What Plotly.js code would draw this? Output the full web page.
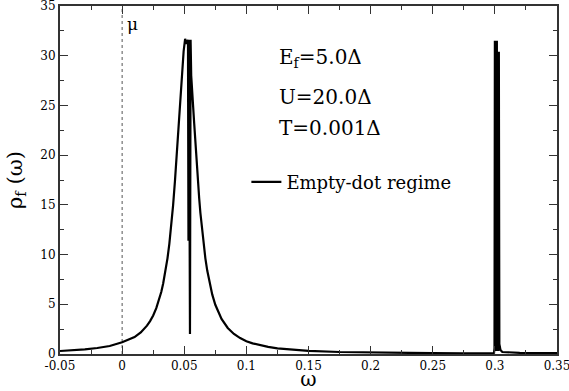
<!DOCTYPE html>
<html>
<head>
<meta charset="utf-8">
<script src="https://cdn.plot.ly/plotly-3.0.1.min.js"></script>
<style>html,body{margin:0;padding:0;background:#fff;}#chart{width:569px;height:391px;}</style>
</head>
<body>
<div id="chart"></div>
<script>
// Spectral function values
const omega = [
  -0.05, -0.04, -0.03, -0.02, -0.01, 0.0, 0.005, 0.01, 0.015, 0.02, 0.0225, 0.025, 0.0275, 0.03, 0.0315,
  0.033, 0.035, 0.0365, 0.038, 0.0395, 0.041, 0.0425, 0.044, 0.045, 0.046, 0.047, 0.048, 0.0495, 0.0507,
  0.0518, 0.0530, 0.0534, 0.0538, 0.0546, 0.0551, 0.0556,
  0.058, 0.059, 0.060, 0.061, 0.062, 0.063, 0.064, 0.0655, 0.067, 0.0685, 0.070, 0.0725, 0.075, 0.0775,
  0.080, 0.085, 0.090, 0.095, 0.100, 0.105, 0.110, 0.1175, 0.125, 0.1375,
  0.15, 0.175, 0.2, 0.225, 0.25, 0.275, 0.295, 0.2993, 0.2997,
  0.3000, 0.3004, 0.3008, 0.3012, 0.3016, 0.3020, 0.3024, 0.3028, 0.3032, 0.3036, 0.3045, 0.306, 0.32, 0.35
];
const rho = [
  0.30, 0.37, 0.46, 0.60, 0.80, 1.18, 1.40, 1.70, 2.17, 2.85, 3.31, 3.88, 4.61, 5.54, 6.24,
  7.06, 8.39, 9.62, 11.08, 12.84, 14.92, 17.36, 20.14, 22.15, 24.22, 26.27, 28.18, 30.45, 31.7,
  31.2, 31.6, 11.4, 31.6, 2.0, 31.6, 28.0,
  23.19, 21.13, 19.18, 17.36, 15.69, 14.18, 12.84, 11.08, 9.62, 8.39, 7.36, 5.99, 4.95, 4.15,
  3.52, 2.62, 2.02, 1.60, 1.29, 1.07, 0.90, 0.71, 0.57, 0.42,
  0.32, 0.20, 0.14, 0.10, 0.08, 0.06, 0.05, 0.10, 0.6,
  31.5, 0.3, 31.5, 0.3, 31.5, 0.3, 30.4, 0.3, 30.4, 1.0, 0.4, 0.2, 0.12, 0.10
];
// chemical potential marker
const muX = [0, 0];
const muY = [0, 35];

const xTickVals = [-0.05, 0, 0.05, 0.1, 0.15, 0.2, 0.25, 0.3, 0.35];
const xTickText = ['-0.05', '0', '0.05', '0.1', '0.15', '0.2', '0.25', '0.3', '0.35'];
const yTickVals = [0, 5, 10, 15, 20, 25, 30, 35];
const yTickText = ['0', '5', '10', '15', '20', '25', '30', '35'];

const serif = 'DejaVu Serif';

const traces = [
  {x: muX, y: muY, mode: 'lines', line: {color: '#555', width: 1, dash: 'dot'}, showlegend: false, hoverinfo: 'skip'},
  {x: omega, y: rho, mode: 'lines', name: 'Empty-dot regime', line: {color: '#000', width: 2.2}}
];

const axisCommon = {
  showgrid: false, zeroline: false, showline: true, linecolor: '#333', linewidth: 2,
  mirror: 'allticks', ticks: 'inside', ticklen: 8, tickwidth: 1, tickcolor: '#333',
  ticklabeloverflow: 'allow',
  tickfont: {family: serif, size: 12, color: '#000'}
};

const layout = {
  width: 569, height: 391,
  margin: {l: 60, r: 12, t: 6, b: 37},
  paper_bgcolor: '#fff', plot_bgcolor: '#fff',
  font: {family: serif, color: '#000'},
  xaxis: Object.assign({}, axisCommon, {
    range: [-0.05, 0.35], tickmode: 'array', tickvals: xTickVals, ticktext: xTickText,
    minor: {ticks: 'inside', ticklen: 4, dtick: 0.025, tick0: 0, tickcolor: '#333'},
    title: {text: 'ω', font: {family: serif, size: 20, color: '#000'}, standoff: 7}
  }),
  yaxis: Object.assign({}, axisCommon, {
    range: [0, 35], tickmode: 'array', tickvals: yTickVals, ticktext: yTickText,
    minor: {ticks: 'inside', ticklen: 4, dtick: 2.5, tick0: 0, tickcolor: '#333'},
    title: {text: 'ρ<sub>f</sub> (ω)', font: {family: serif, size: 21, color: '#000'}, standoff: 12}
  }),
  showlegend: true,
  legend: {x: 0.375, y: 0.494, xanchor: 'left', yanchor: 'middle', bgcolor: 'rgba(0,0,0,0)',
           borderwidth: 0, font: {family: serif, size: 18, color: '#000'}},
  annotations: [
    {xref: 'paper', yref: 'paper', x: 0.437, y: 0.851, xanchor: 'left', yanchor: 'middle', showarrow: false,
     text: 'E<sub>f</sub>=5.0Δ', font: {family: serif, size: 20, color: '#000'}},
    {xref: 'paper', yref: 'paper', x: 0.437, y: 0.738, xanchor: 'left', yanchor: 'middle', showarrow: false,
     text: 'U=20.0Δ', font: {family: serif, size: 20, color: '#000'}},
    {xref: 'paper', yref: 'paper', x: 0.437, y: 0.649, xanchor: 'left', yanchor: 'middle', showarrow: false,
     text: 'T=0.001Δ', font: {family: serif, size: 20, color: '#000'}},
    {xref: 'x', yref: 'paper', x: 0.0025, y: 0.948, xanchor: 'left', yanchor: 'middle', showarrow: false,
     text: 'μ', font: {family: serif, size: 17, color: '#000'}}
  ]
};

Plotly.newPlot('chart', traces, layout, {staticPlot: true, displayModeBar: false});
</script>
</body>
</html>
